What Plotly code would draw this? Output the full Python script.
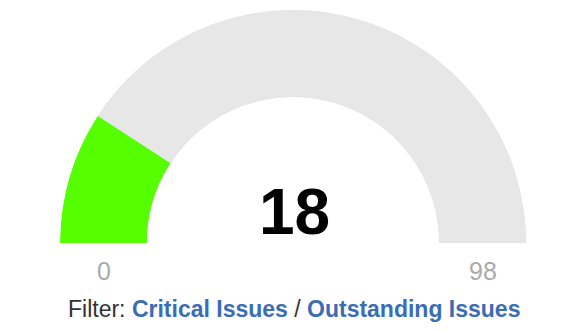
import plotly.graph_objects as go

# Data
value = 18
min_value = 0
max_value = 98
filter_prefix = "Filter:"
filter_links = ["Critical Issues", "Outstanding Issues"]

W, H = 580, 330
green = "#55ff00"
gray = "#e8e7e8"
link_color = "#3a6db3"

span = max_value - min_value
deg_per_unit = 180.0 / span

fig = go.Figure()
# remaining (background) segment
fig.add_trace(go.Barpolar(
    r=[1],
    theta=[(value - min_value + span) / 2 * deg_per_unit],
    width=[(max_value - value) * deg_per_unit],
    marker=dict(color=gray, line=dict(color="#e2e1e2", width=1)),
    hoverinfo="skip",
))
# value segment
fig.add_trace(go.Barpolar(
    r=[1],
    theta=[(value - min_value) / 2 * deg_per_unit],
    width=[(value - min_value) * deg_per_unit],
    marker=dict(color=green, line=dict(color=green, width=0)),
    hoverinfo="skip",
))

fig.update_layout(
    width=W, height=H,
    margin=dict(l=0, r=0, t=0, b=0),
    paper_bgcolor="white",
    showlegend=False,
    polar=dict(
        domain=dict(x=[60 / W, 526 / W], y=[1 - 243 / H, 1 - 10 / H]),
        sector=[0, 180],
        hole=0.627,
        barmode="overlay",
        bgcolor="white",
        radialaxis=dict(range=[0, 1], visible=False, showgrid=False),
        angularaxis=dict(visible=False, showgrid=False, direction="clockwise",
                         rotation=180),
    ),
    font=dict(family="Liberation Sans, Arial, sans-serif"),
)

annotations = [
    dict(text=f"<b>{value}</b>", x=294 / W, y=1 - 212 / H, xref="paper", yref="paper",
         showarrow=False, font=dict(size=64, color="#000000"), xanchor="center", yanchor="middle"),
    dict(text=str(min_value), x=103.5 / W, y=1 - 271 / H, xref="paper", yref="paper",
         showarrow=False, font=dict(size=25, color="#aaaaaa"), xanchor="center", yanchor="middle"),
    dict(text=str(max_value), x=482.5 / W, y=1 - 271 / H, xref="paper", yref="paper",
         showarrow=False, font=dict(size=25, color="#aaaaaa"), xanchor="center", yanchor="middle"),
    dict(text=(f"{filter_prefix} <b><span style='color:{link_color}'>{filter_links[0]}</span></b>"
               f" / <b><span style='color:{link_color}'>{filter_links[1]}</span></b>"),
         x=293.5 / W, y=1 - 309 / H, xref="paper", yref="paper",
         showarrow=False, font=dict(size=23, color="#333333"), xanchor="center", yanchor="middle"),
]
fig.update_layout(annotations=annotations)

fig.write_html("out.html")
